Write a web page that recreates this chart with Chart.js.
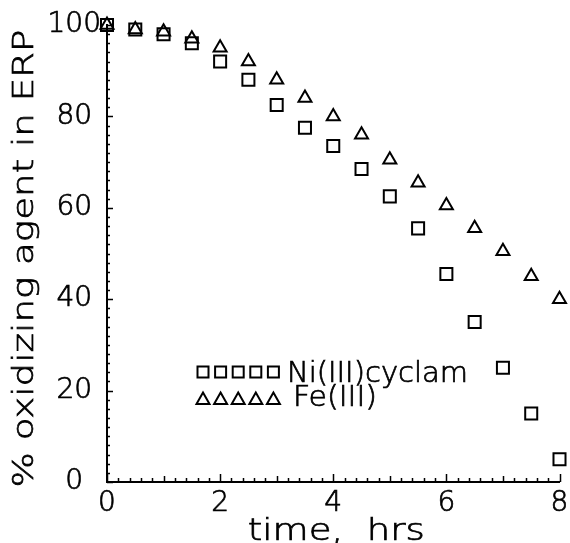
<!DOCTYPE html>
<html>
<head>
<meta charset="utf-8">
<script src="https://cdn.jsdelivr.net/npm/chart.js@4.4.1/dist/chart.umd.min.js"></script>
<style>
  html, body { margin: 0; padding: 0; background: #fff; }
  #wrap { width: 570px; height: 543px; }
</style>
</head>
<body>
<div id="wrap"><canvas id="myChart" width="570" height="543"></canvas></div>
<script>
// sampling times (hrs) and % oxidizing agent left in the ERP
const times = [0, 0.5, 1, 1.5, 2, 2.5, 3, 3.5, 4, 4.5, 5, 5.5, 6, 6.5, 7, 7.5, 8];
const niValues = [100, 99, 98, 96, 92, 88, 82.5, 77.5, 73.5, 68.5, 62.5, 55.5, 45.5, 35, 25, 15, 5];
const feValues = [100, 99, 98.5, 97, 95, 92, 88, 84, 80, 76, 70.5, 65.5, 60.5, 55.5, 50.5, 45, 40];

const seriesNames = ['Ni(III)cyclam', 'Fe(III)'];
const xTitle = 'time,  hrs';
const yTitle = '% oxidizing agent in ERP';
const xLabelStep = 2;
const yLabelStep = 20;

// thin, wide face, close to pen-plotter lettering
const FONT = "'DejaVu Sans', sans-serif";
const WEIGHT = 200;
const PEN = 0.7;

const onStep = (v, step) => Math.abs(v / step - Math.round(v / step)) < 1e-6;

const toPoints = (ys) => times.map((t, i) => ({ x: t, y: ys[i] }));

// tick marks drawn inward from both axes
const innerTicks = {
    id: 'innerTicks',
    afterDraw(chart) {
        const { ctx, scales: { x, y } } = chart;
        ctx.save();
        ctx.strokeStyle = '#000';
        ctx.lineWidth = 1.5;
        ctx.beginPath();
        x.ticks.forEach(t => {
            const px = Math.round(x.getPixelForValue(t.value)) + 0.5;
            const len = onStep(t.value, 2) ? 8 : (onStep(t.value, 1) ? 6 : 4);
            ctx.moveTo(px, x.top);
            ctx.lineTo(px, x.top - len);
        });
        y.ticks.forEach(t => {
            const py = Math.round(y.getPixelForValue(t.value)) + 0.5;
            const len = onStep(t.value, 20) ? 6 : 3;
            ctx.moveTo(y.right, py);
            ctx.lineTo(y.right + len, py);
        });
        ctx.stroke();
        ctx.restore();
    }
};

// text squeezed or stretched along its run to span a given width
function fitText(ctx, text, x, y, size, width, align, angle) {
    ctx.save();
    ctx.font = `${WEIGHT} ${size}px ${FONT}`;
    const sx = width / ctx.measureText(text).width;
    ctx.translate(x, y);
    if (angle) ctx.rotate(angle);
    ctx.scale(sx, 1);
    ctx.textAlign = align;
    ctx.textBaseline = 'alphabetic';
    ctx.fillStyle = '#000';
    ctx.strokeStyle = '#000';
    ctx.lineWidth = PEN;
    ctx.fillText(text, 0, 0);
    ctx.strokeText(text, 0, 0);
    ctx.restore();
}

// axis titles and the in-plot key
const lettering = {
    id: 'lettering',
    afterDraw(chart) {
        const { ctx, chartArea: area } = chart;

        fitText(ctx, xTitle, (area.left + area.right) / 2 + 3, 540, 30, 177, 'center');
        fitText(ctx, yTitle, 33, (area.top + area.bottom) / 2 + 5, 29, 458, 'center', -Math.PI / 2);

        // key: five symbols then the series name
        const keyX = 197;
        const rows = [372, 399];
        ctx.save();
        ctx.strokeStyle = '#000';
        ctx.lineWidth = 2;
        rows.forEach((ry, r) => {
            for (let k = 0; k < 5; k++) {
                const cx = keyX + 6 + k * 17.6;
                ctx.beginPath();
                if (r === 0) {
                    ctx.rect(cx - 5.5, ry - 5.5, 11, 11);
                } else {
                    ctx.moveTo(cx, ry - 6.5);
                    ctx.lineTo(cx + 6.5, ry + 5);
                    ctx.lineTo(cx - 6.5, ry + 5);
                    ctx.closePath();
                }
                ctx.stroke();
            }
        });
        ctx.restore();
        fitText(ctx, seriesNames[0], 287, 382, 28, 181, 'left');
        fitText(ctx, seriesNames[1], 293, 406, 28, 84, 'left');
    }
};

const ctx = document.getElementById('myChart');

new Chart(ctx, {
    type: 'scatter',
    data: {
        datasets: [{
            label: seriesNames[0],
            data: toPoints(niValues),
            pointStyle: 'rect',
            pointRadius: 8.5,
            pointBorderWidth: 2,
            pointBorderColor: '#000',
            pointBackgroundColor: 'rgba(0,0,0,0)',
            showLine: false,
            clip: false
        }, {
            label: seriesNames[1],
            data: toPoints(feValues),
            pointStyle: 'triangle',
            pointRadius: 7.5,
            pointBorderWidth: 2,
            pointBorderColor: '#000',
            pointBackgroundColor: 'rgba(0,0,0,0)',
            showLine: false,
            clip: false
        }]
    },
    options: {
        responsive: false,
        animation: false,
        layout: { padding: { top: 25, right: 7, left: 0, bottom: 0 } },
        plugins: {
            legend: { display: false },
            tooltip: { enabled: false }
        },
        scales: {
            x: {
                type: 'linear',
                min: 0,
                max: 8,
                grid: { display: false, drawTicks: false },
                border: { display: true, color: '#000', width: 2 },
                ticks: {
                    stepSize: 0.2,
                    autoSkip: false,
                    maxRotation: 0,
                    padding: 5,
                    color: '#000',
                    textStrokeColor: '#000',
                    textStrokeWidth: PEN,
                    font: { family: FONT, size: 28, weight: WEIGHT },
                    callback: (v) => onStep(v, xLabelStep) ? String(Math.round(v)) : ''
                },
                afterFit: (scale) => {
                    scale.height = 61;
                    scale.paddingLeft = 0;
                    scale.paddingRight = 0;
                }
            },
            y: {
                min: 0,
                max: 100,
                grid: { display: false, drawTicks: false },
                border: { display: true, color: '#000', width: 2 },
                ticks: {
                    stepSize: 2,
                    autoSkip: false,
                    crossAlign: 'center',
                    padding: 6,
                    color: '#000',
                    textStrokeColor: '#000',
                    textStrokeWidth: PEN,
                    font: { family: FONT, size: 28, weight: WEIGHT },
                    callback: (v) => onStep(v, yLabelStep) ? String(Math.round(v)) : ''
                },
                afterFit: (scale) => { scale.width = 107; }
            }
        }
    },
    plugins: [innerTicks, lettering]
});
</script>
</body>
</html>
